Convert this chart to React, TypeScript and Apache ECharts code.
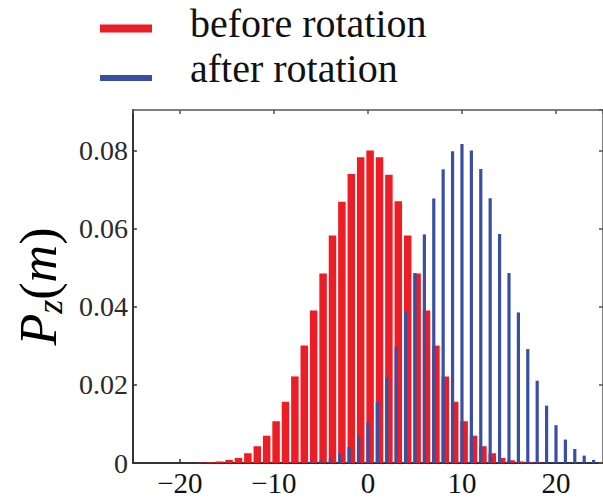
import React, { useEffect, useRef } from "react";
import * as echarts from "echarts";

// Magnetic quantum number m and the distribution P_z(m) before rotation
const redM = [-18, -17, -16, -15, -14, -13, -12, -11, -10, -9, -8, -7, -6, -5, -4, -3, -2, -1, 0, 1, 2, 3, 4, 5, 6, 7, 8, 9, 10, 11, 12, 13, 14, 15, 16, 17, 18];
const redP = [0.0001, 0.0002, 0.0004, 0.0008, 0.0013, 0.0025, 0.0043, 0.007, 0.0107, 0.0157, 0.0222, 0.0301, 0.0391, 0.0486, 0.0583, 0.067, 0.0741, 0.0784, 0.0801, 0.0784, 0.0739, 0.0671, 0.0583, 0.0486, 0.0391, 0.0301, 0.0222, 0.0157, 0.0107, 0.007, 0.0043, 0.0025, 0.0013, 0.0007, 0.0004, 0.0002, 0.0001];

// ... and after rotation
const blueM = [-7, -6, -5, -4, -3, -2, -1, 0, 1, 2, 3, 4, 5, 6, 7, 8, 9, 10, 11, 12, 13, 14, 15, 16, 17, 18, 19, 20, 21, 22, 23, 24];
const blueP = [0.0001, 0.0003, 0.0006, 0.0012, 0.0023, 0.0041, 0.0068, 0.0104, 0.0156, 0.0219, 0.0298, 0.0388, 0.0487, 0.0586, 0.0678, 0.0753, 0.0799, 0.0818, 0.0801, 0.0754, 0.0679, 0.0587, 0.0487, 0.0386, 0.0292, 0.0211, 0.0147, 0.0097, 0.006, 0.0036, 0.0019, 0.0008];

const seriesNames = ["before rotation", "after rotation"];

const RED = "#ec1d25";
const BLUE = "#3a4fa4";
const SERIF = "'Liberation Serif', 'Times New Roman', serif";

export default function App() {
  const ref = useRef<HTMLDivElement>(null);

  useEffect(() => {
    if (!ref.current) return;
    const chart = echarts.init(ref.current, null, { renderer: "svg" });

    const xCommon = {
      type: "value" as const,
      min: -25,
      max: 25,
      splitLine: { show: false },
    };
    const yCommon = {
      type: "value" as const,
      min: 0,
      max: 0.0905,
      interval: 0.02,
      splitLine: { show: false },
    };

    chart.setOption({
      animation: false,
      backgroundColor: "#ffffff",
      grid: { left: 126, right: -4, top: 110, bottom: 33 },
      xAxis: [
        {
          ...xCommon,
          position: "bottom",
          axisLine: { onZero: false, lineStyle: { color: "#333", width: 2 } },
          axisTick: { inside: true, length: 4, lineStyle: { color: "#333", width: 1.5 } },
          axisLabel: {
            showMinLabel: false,
            showMaxLabel: false,
            margin: 5,
            fontSize: 29,
            fontFamily: SERIF,
            color: "#111",
            formatter: (v: number) => (v < 0 ? "\u2212" + Math.abs(v) : String(v)),
          },
        },
        {
          ...xCommon,
          position: "top",
          axisLine: { onZero: false, lineStyle: { color: "#555", width: 1.5 } },
          axisTick: { inside: true, length: 4, lineStyle: { color: "#555", width: 1.5 } },
          axisLabel: { show: false },
        },
      ],
      yAxis: [
        {
          ...yCommon,
          position: "left",
          axisLine: { onZero: false, lineStyle: { color: "#333", width: 2 } },
          axisTick: { inside: true, length: 4, lineStyle: { color: "#333", width: 1.5 } },
          axisLabel: {
            showMaxLabel: false,
            margin: 5,
            fontSize: 28,
            fontFamily: SERIF,
            color: "#2a2a2a",
            formatter: (v: number) => (v === 0 ? "0" : v.toFixed(2)),
          },
          name: "{i|P}{s|z}{u|(}{i|m}{u|)}",
          nameLocation: "middle",
          nameRotate: 90,
          nameGap: 56,
          nameTextStyle: {
            rich: {
              i: { fontSize: 52, fontStyle: "italic", fontFamily: SERIF, color: "#000", lineHeight: 52 },
              u: { fontSize: 52, fontFamily: SERIF, color: "#000", lineHeight: 52 },
              s: { fontSize: 36, fontStyle: "italic", fontFamily: SERIF, color: "#000", lineHeight: 36, padding: [24, 0, 0, 0] },
            },
          },
        },
        {
          ...yCommon,
          position: "right",
          axisLine: { onZero: false, lineStyle: { color: "#555", width: 1.5 } },
          axisTick: { inside: true, length: 4, lineStyle: { color: "#555", width: 1.5 } },
          axisLabel: { show: false },
        },
      ],
      series: [
        {
          type: "bar",
          name: seriesNames[0],
          xAxisIndex: 0,
          yAxisIndex: 0,
          data: redM.map((m, i) => [m, redP[i]]),
          barWidth: 7.5,
          barGap: "-100%",
          itemStyle: { color: RED },
        },
        {
          type: "bar",
          name: seriesNames[1],
          xAxisIndex: 0,
          yAxisIndex: 0,
          data: blueM.map((m, i) => [m, blueP[i]]),
          barWidth: 3.2,
          barGap: "-100%",
          itemStyle: { color: BLUE },
        },
      ],
      graphic: [
        { type: "rect", shape: { x: 100, y: 24.5, width: 52, height: 8 }, style: { fill: RED } },
        {
          type: "text",
          x: 190,
          y: 23,
          style: { text: seriesNames[0], fontSize: 40, fontFamily: SERIF, fill: "#111", verticalAlign: "middle" },
        },
        { type: "rect", shape: { x: 100, y: 75, width: 52, height: 6 }, style: { fill: BLUE } },
        {
          type: "text",
          x: 190,
          y: 68,
          style: { text: seriesNames[1], fontSize: 40, fontFamily: SERIF, fill: "#111", verticalAlign: "middle" },
        },
      ],
    });

    return () => chart.dispose();
  }, []);

  return (
    <div
      ref={ref}
      style={{ position: "fixed", left: 0, top: 0, width: 603, height: 497 }}
    />
  );
}
